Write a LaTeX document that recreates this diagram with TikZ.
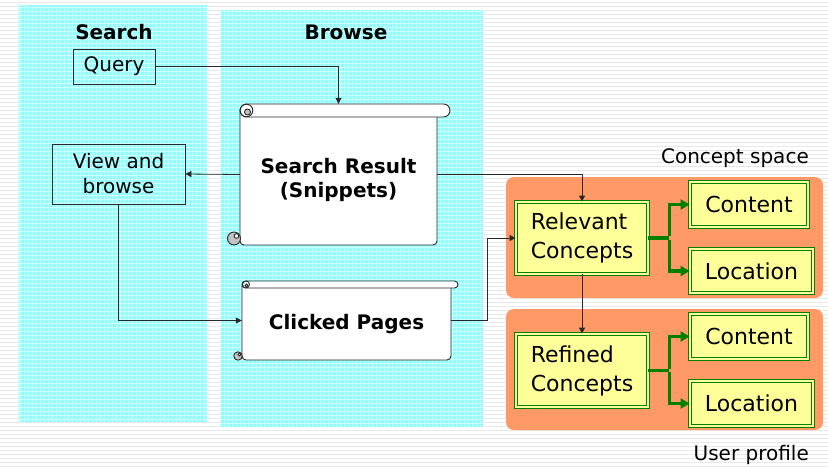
\documentclass[tikz,border=0pt]{standalone}
\usepackage{fontspec}
\setmainfont{DejaVu Sans}
\usetikzlibrary{arrows.meta}

\definecolor{stripegray}{RGB}{232,232,232}
\definecolor{cyanbase}{RGB}{140,255,255}
\definecolor{cyangrid}{RGB}{205,255,255}
\definecolor{orangeb}{RGB}{255,153,102}
\definecolor{yellowfill}{RGB}{255,255,153}
\definecolor{ggreen}{RGB}{0,128,0}
\definecolor{curlgray}{RGB}{195,195,195}
\definecolor{linegray}{RGB}{40,40,40}

\tikzset{
  txt/.style={font=\fontsize{20}{25}\selectfont, inner sep=0pt},
  boldtxt/.style={font=\bfseries\fontsize{20}{25}\selectfont, inner sep=0pt},
  plainbox/.style={draw=linegray, line width=0.9pt, inner sep=0pt, align=center,
    font=\fontsize{20}{25}\selectfont},
  scrollnode/.style={draw=none, inner sep=0pt,
    font=\bfseries\fontsize{20}{24}\selectfont},
  conceptbox/.style={draw=ggreen, line width=0.8pt, double=yellowfill,
    double distance=1.6pt, fill=yellowfill, inner sep=0pt, align=left,
    font=\fontsize{22}{29}\selectfont},
  link/.style={draw=linegray, line width=0.8pt, -{Triangle[length=6pt,width=6pt]}},
  greenlink/.style={draw=ggreen, line width=3.5pt, -{Triangle[length=9pt,width=10pt]}},
  panel/.style={fill=cyanbase},
  scrollline/.style={draw=linegray, line width=0.9pt}
}

\begin{document}
\begin{tikzpicture}[x=1pt,y=-1pt]
\useasboundingbox (0,0) rectangle (828,467);

% striped page background
\fill[white] (0,0) rectangle (828,467);
\foreach \y in {2,6,...,466} {
  \fill[stripegray] (0,\y) rectangle (828,\y+1.4);
}

% cyan panels with a fine grid
\fill[panel] (19,5) rectangle (207,422);
\fill[panel] (221,10) rectangle (483,427);
\begin{scope}
  \clip (19,5) rectangle (207,422) (221,10) rectangle (483,427);
  \foreach \x in {20,24,...,484} {
    \draw[cyangrid, line width=1pt] (\x,0) -- (\x,430);
  }
  \foreach \y in {7,11,...,427} {
    \draw[cyangrid, line width=1pt] (15,\y) -- (490,\y);
  }
\end{scope}

% orange profile panels
\fill[orangeb, rounded corners=8pt] (506,177) rectangle (823,298);
\fill[orangeb, rounded corners=8pt] (506,309) rectangle (823,430);

% headings
\node[boldtxt] (hsearch) at (114,32) {Search};
\node[boldtxt] (hbrowse) at (346,32) {Browse};
\node[txt, anchor=east] (hcspace) at (809,158) {Concept space};
\node[txt, anchor=east] (huser) at (809,455) {User profile};

% search column boxes
\node[plainbox, minimum width=82pt, minimum height=35pt] (q) at (114,66.5) {Query};
\node[plainbox, minimum width=133pt, minimum height=60pt] (vb) at (118.5,174) {View and\\browse};

% scroll: Search Result
\draw[scrollline, fill=white, rounded corners=4pt] (240,110) -- (240,245) -- (437,245) -- (437,110);
\draw[scrollline, fill=white, rounded corners=6.5pt] (240,104) rectangle (450,117);
\draw[scrollline, fill=white] (246.5,110.5) circle (6.3pt);
\draw[scrollline, fill=curlgray] (247.5,112) circle (3pt);
\draw[scrollline, fill=curlgray] (234,238.5) circle (6.5pt);
\draw[scrollline, fill=white] (236.5,236) circle (2.3pt);
\node[scrollnode, minimum width=197pt, minimum height=141pt] (sr) at (338.5,174.5)
  {\raisebox{-23pt}[0pt][0pt]{\begin{tabular}[b]{@{}c@{}}Search Result\\(Snippets)\end{tabular}}};

% scroll: Clicked Pages
\draw[scrollline, fill=white, rounded corners=4pt] (242,285) -- (242,360) -- (451,360) -- (451,285);
\draw[scrollline, fill=white, rounded corners=3.5pt] (242,281) rectangle (458,288);
\draw[scrollline, fill=white] (246,284.5) circle (3.5pt);
\draw[scrollline, fill=curlgray] (246.5,285.5) circle (1.6pt);
\draw[scrollline, fill=curlgray] (238,356) circle (4.2pt);
\draw[scrollline, fill=white] (239.5,354.5) circle (1.5pt);
\node[scrollnode, minimum width=209pt, minimum height=79pt] (cp) at (346.5,320.5)
  {\raisebox{-9pt}[0pt][0pt]{Clicked Pages}};

% concept boxes
\node[conceptbox, minimum width=132pt, minimum height=72pt] (rc) at (582,238) {Relevant\\Concepts};
\node[conceptbox, align=center, minimum width=118pt, minimum height=45pt] (ct1) at (749,204.5) {Content};
\node[conceptbox, align=center, minimum width=123pt, minimum height=44pt] (lo1) at (751.5,271) {Location};
\node[conceptbox, minimum width=132pt, minimum height=73pt] (rf) at (582,370.5) {Refined\\Concepts};
\node[conceptbox, align=center, minimum width=118pt, minimum height=45pt] (ct2) at (749,336.5) {Content};
\node[conceptbox, align=center, minimum width=123pt, minimum height=45pt] (lo2) at (751.5,403.5) {Location};

% black connectors
\draw[link] (q.east) -| (sr.north);
\draw[link] (sr.west) -- (vb.east);
\draw[link] (vb.south) |- (cp.west);
\draw[link] (sr.east) -| (rc.north);
\draw[link] (cp.east) -- ++(36,0) |- (rc.west);
\draw[link] (rc.south) -- (rf.north);

% green branches
\draw[draw=ggreen, line width=3.5pt] (rc.east) -- ++(21,0) coordinate (b1);
\draw[greenlink] ([yshift=1.75pt]b1) |- (ct1.west);
\draw[greenlink] ([yshift=-1.75pt]b1) |- (lo1.west);
\draw[draw=ggreen, line width=3.5pt] (rf.east) -- ++(21,0) coordinate (b2);
\draw[greenlink] ([yshift=1.75pt]b2) |- (ct2.west);
\draw[greenlink] ([yshift=-1.75pt]b2) |- (lo2.west);
\end{tikzpicture}
\end{document}
